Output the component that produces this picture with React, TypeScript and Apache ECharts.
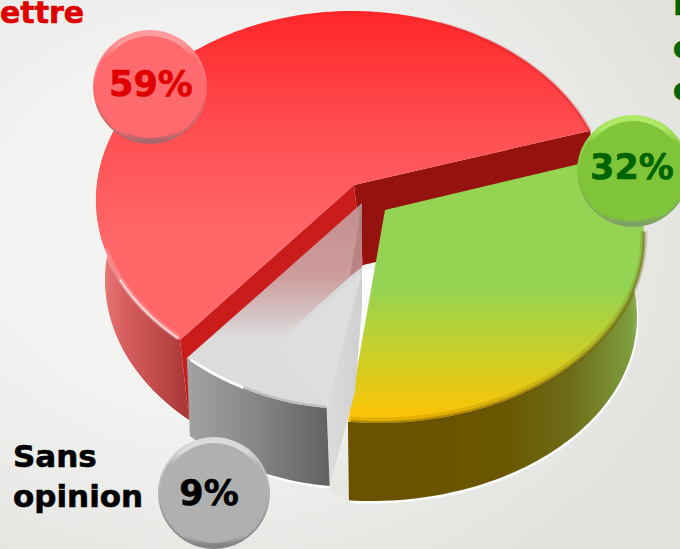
import React, { useEffect, useRef } from "react";
import * as echarts from "echarts";

const categories = ["ettre", "P", "Sans opinion"];
const values = [59, 32, 9];
const sweepOrder = [0, 2, 1]; // slices run counter-clockwise: red, grey, green
const rightLabelChars = ["P", "c", "e"];

const START_ANGLE = 20; // math degrees, counter-clockwise

type Stop = [number, string];
const vgrad = (y1: number, y2: number, stops: Stop[]) => ({
  type: "linear", x: 0, y: y1, x2: 0, y2: y2, global: true,
  colorStops: stops.map(([offset, color]) => ({ offset, color })),
});
const hgrad = (x1: number, x2: number, stops: Stop[]) => ({
  type: "linear", x: x1, y: 0, x2: x2, y2: 0, global: true,
  colorStops: stops.map(([offset, color]) => ({ offset, color })),
});

const layouts = [
  {
    cx: 352, cy: 200, rx: 256, ry: 189, apex: [354, 185], ext: [9, 80], startPad: 1.5, endPad: -4.6,
    top: vgrad(11, 240, [[0, "#ff2628"], [0.55, "#ff5053"], [1, "#ff6769"]]),
    wall: hgrad(100, 190, [[0, "#ea7c7c"], [0.25, "#d96060"], [1, "#a83636"]]),
    bubble: { x: 150, y: 87, r: 57, base: "#ff6a6e", light: "#ff9a9c", dark: "#a8666a", text: "#e00000", tdx: 1, tdy: -3 },
  },
  {
    cx: 378, cy: 239, rx: 266, ry: 184, apex: [385, 210], ext: [-7, 78], startPad: 7, endPad: 0, frontPad: -1.3,
    top: vgrad(210, 424, [[0, "#94d452"], [0.36, "#94d452"], [0.66, "#c9cf2a"], [0.97, "#fdc405"], [1, "#fdc405"]]),
    wall: hgrad(350, 645, [[0, "#6a5200"], [0.5, "#6a5500"], [0.75, "#6e6c18"], [0.95, "#7d9c3c"], [1, "#a4c878"]]),
    bubble: { x: 633, y: 171, r: 56, base: "#80c43a", light: "#b0e868", dark: "#7f9f68", text: "#006400", tdx: -1, tdy: -4 },
  },
  {
    cx: 351, cy: 164, rx: 269, ry: 245, apex: [362, 203], ext: [3, 78], startPad: 0, endPad: 0,
    top: vgrad(205, 345, [[0, "rgba(195,195,195,0.68)"], [0.5, "rgba(205,205,205,0.72)"], [0.95, "rgba(220,220,222,1)"], [1, "#dcdcdc"]]),
    wall: hgrad(188, 328, [[0, "#a2a2a2"], [0.5, "#858585"], [1, "#626262"]]),
    bubble: { x: 214, y: 493, r: 56, base: "#b0b0b0", light: "#dcdcdc", dark: "#808080", text: "#000000", tdx: -5, tdy: 0 },
  },
];

const total = values.reduce((a, b) => a + b, 0);

function sliceAngles(index: number) {
  let a = START_ANGLE;
  for (const k of sweepOrder) {
    const sweep = (values[k] / total) * 360;
    if (k === index) return [a, a + sweep];
    a += sweep;
  }
  return [a, a];
}

function arcPoints(l: any, from: number, to: number, dx = 0, dy = 0) {
  const pts: number[][] = [];
  const n = Math.max(1, Math.ceil(Math.abs(to - from) / 1.5));
  for (let i = 0; i <= n; i++) {
    const t = ((from + ((to - from) * i) / n) * Math.PI) / 180;
    pts.push([l.cx + l.rx * Math.cos(t) + dx, l.cy - l.ry * Math.sin(t) + dy]);
  }
  return pts;
}

const poly = (points: number[][], fill: any) => ({
  type: "polygon", shape: { points }, style: { fill },
});
const line = (points: number[][], stroke: any, lineWidth: number) => ({
  type: "polyline", shape: { points }, style: { stroke, lineWidth, fill: "none" },
});

function renderSlice(params: any) {
  const i = params.dataIndex;
  const l: any = layouts[i];
  const [a0, a1] = sliceAngles(i);
  const [ex, ey] = l.ext;
  const children: any[] = [];

  if (i === 0) {
    const as = a0 + l.startPad;
    const ae = a1 + l.endPad;
    const top = arcPoints(l, 150, ae);
    const bottom = arcPoints(l, ae, 150, ex, ey);
    children.push(line(arcPoints(l, 165, ae, ex + 1, ey + 1.5), "#ffffff", 2));
    children.push(poly(top.concat(bottom), l.wall));
    const s = arcPoints(l, as, as)[0];
    const e = arcPoints(l, ae, ae)[0];
    const ap = l.apex;
    children.push(poly([ap, s, [s[0] + ex, s[1] + ey], [ap[0] + ex, ap[1] + ey]], "#96120f"));
    children.push(poly([ap, e, [e[0] + ex, e[1] + ey], [ap[0] + ex, ap[1] + ey]], "#cb1c1c"));
    children.push(poly([ap].concat(arcPoints(l, as, ae)), l.top));
    children.push(line(arcPoints(l, 195, ae - 0.5, 0, -1), "rgba(255,255,255,0.18)", 6));
    children.push(line(arcPoints(l, 205, ae - 0.5, 0, -0.5), "rgba(255,255,255,0.6)", 2.5));
    children.push(line(arcPoints(l, as, 70, 0, 1), "rgba(190,30,40,0.25)", 4));
  } else if (i === 1) {
    const front = a0 - 360 + l.frontPad;
    const end = a1 - 360;
    const e0 = arcPoints(l, front, front)[0];
    // white gap along the left cut of this slice
    children.push(poly(
      [[362, 270], [375, 270], e0, [e0[0], e0[1] + ey], [328, 490]],
      vgrad(270, 490, [[0, "#ffffff"], [0.6, "#f2f3f0"], [1, "#e6e7e3"]])
    ));
    const top = arcPoints(l, front, end);
    const bottom = arcPoints(l, end, front, ex, ey).map(([x, y]) => [Math.max(x, e0[0] + 1), y]);
    children.push(line(arcPoints(l, front + 2, 5, ex + 0.5, ey + 1.5), "#ffffff", 2));
    children.push(poly(top.concat(bottom), l.wall));
    children.push(poly([l.apex].concat(arcPoints(l, front, end + l.startPad)), l.top));
    children.push(line(arcPoints(l, front + 0.5, 2, 0, -2), "rgba(110,85,0,0.18)", 7));
    children.push(line(arcPoints(l, front + 0.5, 2, 0, -0.5), "rgba(100,80,0,0.4)", 3));
  } else {
    const top = arcPoints(l, a0, a1);
    const bottom = arcPoints(l, a1, a0, ex, ey);
    const e = top[top.length - 1];
    children.push(line(arcPoints(l, a0 + 1, a1, ex + 0.5, ey + 1.5), "#ffffff", 2));
    children.push(poly(
      [[362, 268], e, [e[0] + ex, e[1] + ey], [355, 392], [362, 305]],
      hgrad(328, 362, [[0, "#dcdcdc"], [1, "#cfcfcf"]])
    ));
    children.push(poly(top.concat(bottom), l.wall));
    children.push(poly([l.apex].concat(top).concat([[362, 270]]), l.top));
    children.push(poly([[362, 272], [273, 348], e], "#dedede"));
    children.push(poly([[362, 205], [362, 268], [350, 276]], "rgba(170,115,115,0.55)"));
    children.push(line(arcPoints(l, a0 + 1, a0 + 14, 0, -1), "rgba(255,255,255,0.9)", 3));
    children.push(line(arcPoints(l, a0 + 14, a1, 0, -1), "rgba(90,90,90,0.22)", 3));
  }
  return { type: "group", children };
}

function renderBubble(params: any, api: any) {
  const i = params.dataIndex;
  const b = layouts[i].bubble;
  const value = api.value(0);
  const c = (r: number, fill: any) => ({ type: "circle", shape: { cx: b.x, cy: b.y, r }, style: { fill } });
  return {
    type: "group",
    children: [
      c(b.r, vgrad(b.y - b.r, b.y + b.r, [[0, b.light], [0.5, b.base], [1, b.dark]])),
      c(b.r - 2, vgrad(b.y - b.r, b.y + b.r, [[0, b.light], [0.12, b.light], [0.25, b.base], [0.88, b.base], [0.97, b.dark], [1, b.dark]])),
      c(b.r - 6, b.base),
      {
        type: "text",
        style: {
          text: `${value}%`, x: b.x + b.tdx, y: b.y + b.tdy, fill: b.text, stroke: b.text, lineWidth: 0.6,
          font: "bold 35px 'DejaVu Sans'", textAlign: "center", textVerticalAlign: "middle",
        },
      },
    ],
  };
}

// y is the vertical middle of the line
const sideText = (text: string, x: number, y: number, fill: string, size = 30) => ({
  type: "text", x, y,
  style: { text, fill, stroke: fill, lineWidth: 0.6, font: `bold ${size}px 'DejaVu Sans'`, textAlign: "left", textVerticalAlign: "middle" },
});

export default function App() {
  const ref = useRef<HTMLDivElement>(null);
  useEffect(() => {
    document.body.style.margin = "0";
    const chart = echarts.init(ref.current!, null, { renderer: "svg" });
    chart.setOption({
      animation: false,
      backgroundColor: {
        type: "radial", x: 0.32, y: 0.42, r: 0.75,
        colorStops: [
          { offset: 0, color: "#f6f7f5" },
          { offset: 0.5, color: "#f1f2ef" },
          { offset: 1, color: "#e1e2de" },
        ],
      },
      tooltip: { show: false },
      series: [
        {
          type: "custom", coordinateSystem: "none", silent: true, z: 1,
          data: values.map((v, i) => ({ name: categories[i], value: [v] })),
          renderItem: renderSlice,
        },
        {
          type: "custom", coordinateSystem: "none", silent: true, z: 2,
          data: values.map((v, i) => ({ name: categories[i], value: [v] })),
          renderItem: renderBubble,
        },
      ],
      graphic: [
        sideText(categories[0], 0, 12, "#e00000"),
        sideText("Sans", 13, 456, "#000000", 31),
        sideText("opinion", 13, 496, "#000000", 31),
        sideText(rightLabelChars[0], 673, 4, "#006400"),
        sideText(rightLabelChars[1], 673, 47, "#006400"),
        sideText(rightLabelChars[2], 673, 89, "#006400"),
      ],
    });
    return () => chart.dispose();
  }, []);
  return <div ref={ref} style={{ width: 680, height: 549 }} />;
}
